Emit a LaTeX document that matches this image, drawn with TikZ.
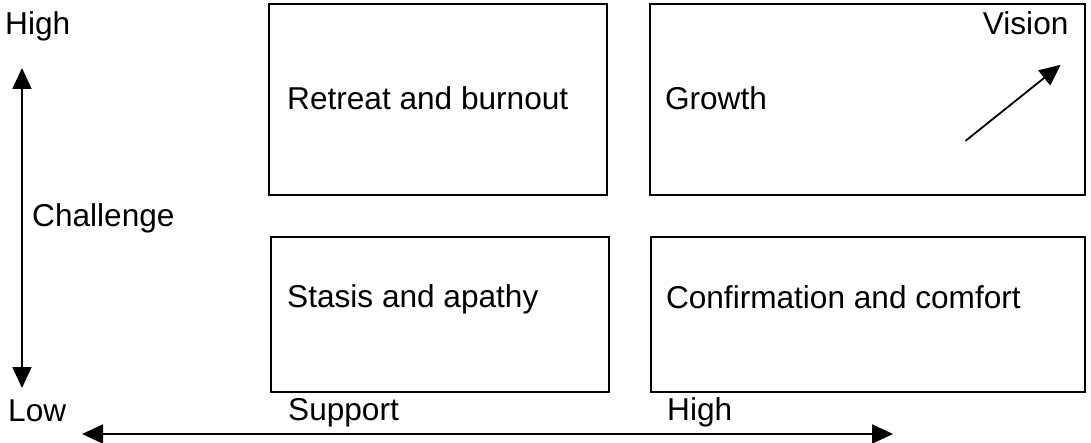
\documentclass[tikz,border=0pt]{standalone}
\usepackage{fontspec}
\setmainfont{Liberation Sans}
\usetikzlibrary{positioning,calc,arrows.meta}

\begin{document}
\begin{tikzpicture}[
    x=1pt, y=-1pt,
    node distance=40pt and 41pt,
    quad/.style={rectangle, draw=black, line width=1.8pt, inner sep=0pt,
                 minimum height=191pt},
    lbl/.style={inner sep=0pt, anchor=base west, font=\fontsize{31.6}{38}\selectfont},
    axis/.style={{Triangle[length=21pt,width=19pt]}-{Triangle[length=21pt,width=19pt]},
                 line width=1.8pt},
    vec/.style={-{Triangle[length=21pt,width=19pt]}, line width=1.8pt}
]

\useasboundingbox (0,0) rectangle (1091,443);

\node[quad, minimum width=338pt, anchor=north west] (retreat) at (268,3) {};
\node[quad, minimum width=435pt, right=41pt of retreat] (growth) {};
\node[quad, minimum width=338pt, minimum height=155pt, below=40pt of retreat, xshift=2pt] (stasis) {};
\node[quad, minimum width=434pt, minimum height=155pt, right=40pt of stasis] (confirm) {};

\node[lbl] (retreattxt) at ($(retreat.north west)+(19,107)$) {Retreat and burnout};
\node[lbl] (growthtxt) at ($(growth.north west)+(16,107)$) {Growth};
\node[lbl] (stasistxt) at ($(stasis.north west)+(17,72)$) {Stasis and apathy};
\node[lbl] (confirmtxt) at ($(confirm.north west)+(16,73)$) {Confirmation and comfort};
\node[lbl, anchor=base east] (vision) at ($(growth.north east)+(-17,32)$) {Vision};

\coordinate (vtail) at ($(growth.south east)+(-120,-55)$);
\coordinate (vhead) at ($(growth.south east)+(-25,-131)$);
\draw[vec] (vtail) -- (vhead);

\node[lbl] (chhigh) at (5,35) {High};
\node[lbl] (challenge) at (32,227) {Challenge};
\node[lbl] (chlow) at (8,421) {Low};
\node[lbl] (support) at (288,420) {Support};
\node[lbl] (suhigh) at (667,420) {High};

\coordinate (chtop) at (22,68);
\coordinate (chbot) at (22,388);
\coordinate (suleft) at (82,434);
\coordinate (suright) at (893,434);
\draw[axis] (chbot) -- (chtop);
\draw[axis] (suleft) -- (suright);

\end{tikzpicture}
\end{document}
